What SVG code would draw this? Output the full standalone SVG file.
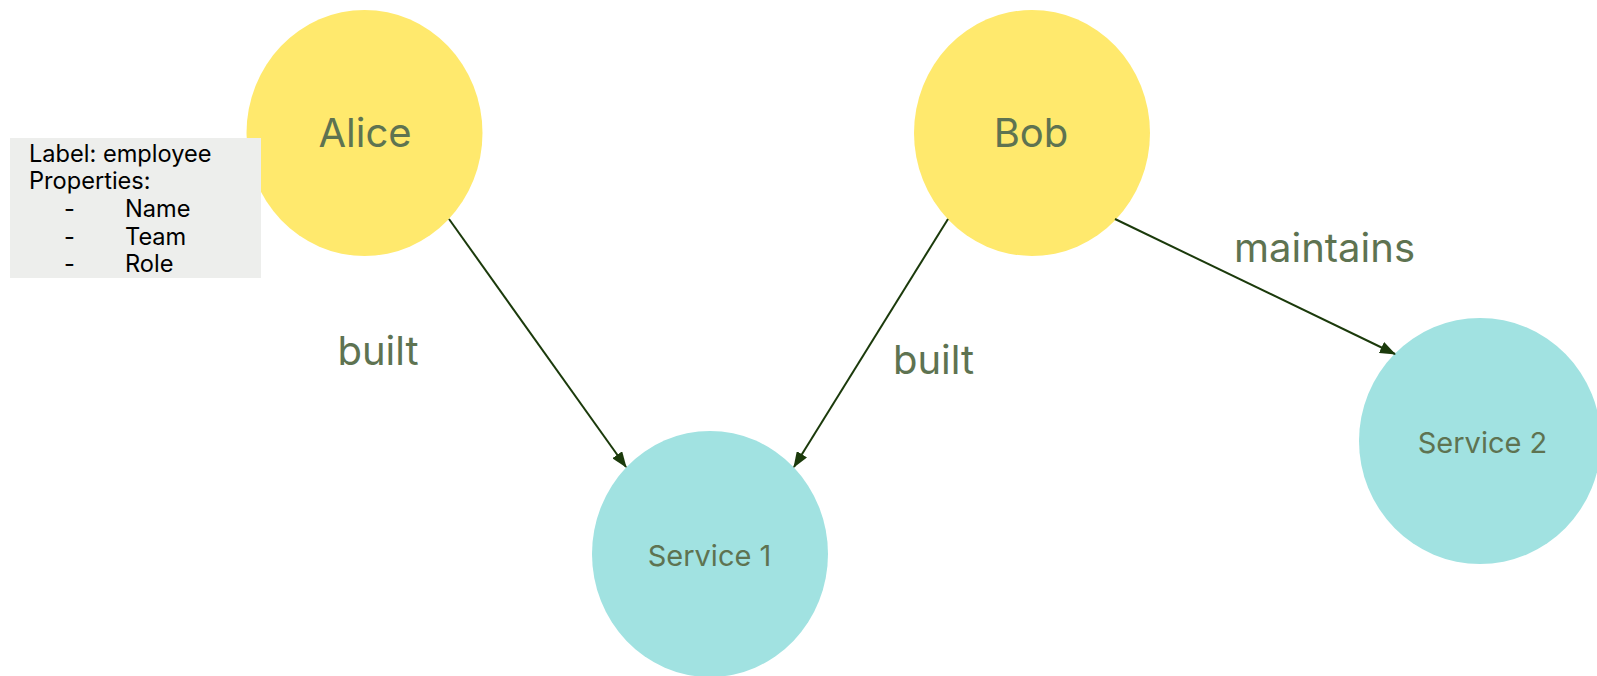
<svg xmlns="http://www.w3.org/2000/svg" width="1597" height="676" viewBox="0 0 1597 676">
  <style>
    .person { fill: #FFE96D; }
    .service { fill: #A1E2E1; }
    .name { font-family: Inter, "Liberation Sans", sans-serif; font-size: 40px; fill: #5E7351; text-anchor: middle; }
    .svc { font-family: Inter, "Liberation Sans", sans-serif; font-size: 29px; fill: #5E7351; text-anchor: middle; }
    .rel { font-family: Inter, "Liberation Sans", sans-serif; font-size: 40px; fill: #5E7351; text-anchor: middle; }
    .edge { stroke: #1B3A0B; stroke-width: 2; fill: none; marker-end: url(#arrow); }
    .legend { font-family: Inter, "Liberation Sans", sans-serif; font-size: 23.6px; fill: #000000; }
  </style>
  <defs>
    <marker id="arrow" markerUnits="userSpaceOnUse" markerWidth="16" markerHeight="12" viewBox="0 0 16 12" refX="15" refY="6" orient="auto">
      <path d="M0,0 L16,6 L0,12 Z" fill="#1B3A0B"/>
    </marker>
  </defs>
  <rect width="1597" height="676" fill="#FFFFFF"/>

  <g id="alice">
    <ellipse class="person" cx="364.5" cy="133" rx="118" ry="123"/>
    <text class="name" x="365" y="147">Alice</text>
  </g>

  <g id="bob">
    <ellipse class="person" cx="1032" cy="133" rx="118" ry="123"/>
    <text class="name" x="1031" y="147">Bob</text>
  </g>

  <g id="service1">
    <ellipse class="service" cx="710" cy="554" rx="118" ry="123"/>
    <text class="svc" x="709.5" y="565.5">Service 1</text>
  </g>

  <g id="service2">
    <ellipse class="service" cx="1480" cy="441" rx="121" ry="123"/>
    <text class="svc" x="1482.5" y="452.5">Service 2</text>
  </g>

  <g id="legend">
    <rect x="10" y="138" width="251" height="140" fill="#EDEEEC"/>
    <text class="legend" x="29" y="161.5">Label: employee</text>
    <text class="legend" x="29" y="189">Properties:</text>
    <text class="legend" x="64" y="217">-</text>
    <text class="legend" x="125" y="217">Name</text>
    <text class="legend" x="64" y="244.5">-</text>
    <text class="legend" x="125" y="244.5">Team</text>
    <text class="legend" x="64" y="272">-</text>
    <text class="legend" x="125" y="272">Role</text>
  </g>

  <g id="connectors">
    <line class="edge" x1="449" y1="219" x2="626" y2="467"/>
    <line class="edge" x1="948" y1="219" x2="794" y2="467"/>
    <line class="edge" x1="1115" y1="219" x2="1395" y2="354"/>
    <text class="rel" x="378" y="365">built</text>
    <text class="rel" x="933.5" y="374">built</text>
    <text class="rel" x="1324.5" y="261.5">maintains</text>
  </g>
</svg>
